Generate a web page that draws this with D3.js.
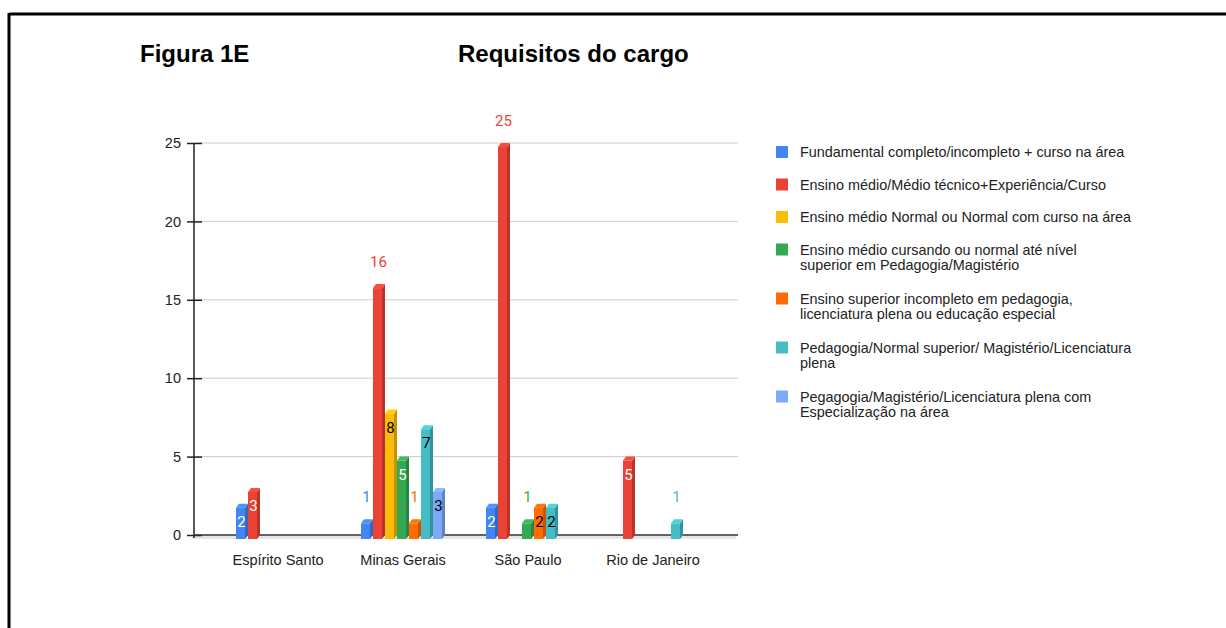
<!DOCTYPE html>
<html>
<head>
<meta charset="utf-8">
<script src="https://cdn.jsdelivr.net/npm/d3@7"></script>
<style>
  body { margin: 0; background: #fff; }
  svg { display: block; font-family: "Liberation Sans", Arial, sans-serif; }
</style>
</head>
<body>
<svg width="1226" height="628"></svg>
<script>
// data
const states = ['Espírito Santo', 'Minas Gerais', 'São Paulo', 'Rio de Janeiro'];
const seriesNames = [
  'Fundamental completo/incompleto + curso na área',
  'Ensino médio/Médio técnico+Experiência/Curso',
  'Ensino médio Normal ou Normal com curso na área',
  'Ensino médio cursando ou normal até nível\nsuperior em Pedagogia/Magistério',
  'Ensino superior incompleto em pedagogia,\nlicenciatura plena ou educação especial',
  'Pedagogia/Normal superior/ Magistério/Licenciatura\nplena',
  'Pegagogia/Magistério/Licenciatura plena com\nEspecialização na área'
];
// one array per series, values by state (null = no bar)
const fundamental   = [2, 1, 2, null];
const medioTecnico  = [3, 16, 25, 5];
const medioNormal   = [null, 8, null, null];
const medioCursando = [null, 5, 1, null];
const superiorInc   = [null, 1, 2, null];
const pedagogia     = [null, 7, 2, 1];
const especializ    = [null, 3, null, null];
const yTicks = [0, 5, 10, 15, 20, 25];

const seriesValues = [fundamental, medioTecnico, medioNormal, medioCursando, superiorInc, pedagogia, especializ];
const colors = ['#4285F4', '#EA4335', '#FBBC04', '#34A853', '#FF6D01', '#46BDC6', '#7BAAF7'];
const insideText = ['#fff', '#fff', '#000', '#fff', '#000', '#000', '#000'];

const svg = d3.select('svg');

// frame (top + left edge)
svg.append('line').attr('x1', 9).attr('x2', 1226).attr('y1', 14).attr('y2', 14)
  .attr('stroke', '#000').attr('stroke-width', 3);
svg.append('line').attr('x1', 9).attr('x2', 9).attr('y1', 13).attr('y2', 628)
  .attr('stroke', '#000').attr('stroke-width', 3);

// titles
svg.append('text').attr('x', 140).attr('y', 62)
  .attr('font-size', 24).attr('font-weight', 'bold').attr('fill', '#000')
  .text('Figura 1E');
svg.append('text').attr('x', 458).attr('y', 62)
  .attr('font-size', 24).attr('font-weight', 'bold').attr('fill', '#000')
  .text('Requisitos do cargo');

// scales
const depthX = 3, depthY = 4;
const plotLeft = 194, plotRight = 738;
const y = d3.scaleLinear().domain([0, 25]).range([535, 143]);
const x0 = d3.scaleBand().domain(states).range([215.5, 715.5]);
const groupW = 84;
const x1 = d3.scaleBand().domain(d3.range(seriesValues.length)).range([0, groupW]);
const barW = x1.bandwidth() - depthX;

// floor
svg.append('polygon')
  .attr('points', [[plotLeft - depthX, y(0) + depthY], [plotRight - depthX, y(0) + depthY], [plotRight, y(0)], [plotLeft, y(0)]].join(' '))
  .attr('fill', '#e6e6e6');

// gridlines
svg.append('g').selectAll('line')
  .data(yTicks.filter(t => t > 0))
  .join('line')
  .attr('x1', plotLeft).attr('x2', plotRight)
  .attr('y1', d => y(d)).attr('y2', d => y(d))
  .attr('stroke', '#ccc').attr('stroke-width', 1);

// y axis
const yAxis = svg.append('g')
  .attr('transform', `translate(${plotLeft},0)`)
  .call(d3.axisLeft(y).tickValues(yTicks).tickSize(7).tickPadding(6));
yAxis.select('.domain').remove();
yAxis.selectAll('.tick line').attr('x1', -7).attr('x2', 8).attr('stroke', '#222').attr('stroke-width', 1.5);
yAxis.selectAll('.tick text').attr('font-size', 14.5).attr('fill', '#222')
  .attr('font-family', '"Liberation Sans", Arial, sans-serif');
svg.append('line').attr('x1', plotLeft).attr('x2', plotLeft)
  .attr('y1', y(25)).attr('y2', y(0) + 3).attr('stroke', '#222').attr('stroke-width', 1.5);

// baseline
svg.append('line').attr('x1', plotLeft).attr('x2', plotRight)
  .attr('y1', y(0)).attr('y2', y(0)).attr('stroke', '#333').attr('stroke-width', 1.5);

// x axis labels
svg.append('g')
  .attr('transform', `translate(0,${y(0)})`)
  .call(d3.axisBottom(x0).tickSize(0).tickPadding(20))
  .call(g => g.select('.domain').remove())
  .selectAll('text')
  .attr('font-size', 14.5).attr('fill', '#222')
  .attr('font-family', '"Liberation Sans", Arial, sans-serif');

// bars
const bars = [];
seriesValues.forEach((vals, si) => {
  vals.forEach((v, ci) => {
    if (v == null) return;
    bars.push({ si, ci, v });
  });
});

const gBars = svg.append('g');
const offset = (x0.bandwidth() - groupW) / 2;

bars.forEach(d => {
  const bx = x0(states[d.ci]) + offset + x1(d.si);
  const topBack = y(d.v);
  const base = y(0);
  const fx = bx, fTop = topBack + depthY, fBot = base + depthY;
  const c = d3.color(colors[d.si]);
  const g = gBars.append('g');
  // side face
  g.append('polygon')
    .attr('points', [[fx + barW, fTop], [fx + barW + depthX, topBack], [fx + barW + depthX, base], [fx + barW, fBot]].join(' '))
    .attr('fill', c.darker(0.7));
  // top face
  g.append('polygon')
    .attr('points', [[fx, fTop], [fx + depthX, topBack], [fx + barW + depthX, topBack], [fx + barW, fTop]].join(' '))
    .attr('fill', c.brighter(0.3));
  // front face
  g.append('rect')
    .attr('x', fx).attr('y', fTop)
    .attr('width', barW).attr('height', fBot - fTop)
    .attr('fill', c);

  // value label
  const label = String(d.v);
  const fits = label.length === 1 && (fBot - fTop) >= 28;
  g.append('text')
    .attr('x', fx + barW / 2 + 1)
    .attr('y', fits ? topBack + 23 : topBack - 17)
    .attr('text-anchor', 'middle')
    .attr('font-family', 'Roboto, sans-serif')
    .attr('font-size', 15)
    .attr('fill', fits ? insideText[d.si] : colors[d.si])
    .text(label);
});

// legend
const legend = svg.append('g');
let ly = 152;
seriesNames.forEach((name, i) => {
  const lines = name.split('\n');
  legend.append('rect')
    .attr('x', 776).attr('y', ly - 6).attr('width', 12).attr('height', 12)
    .attr('fill', colors[i]);
  const t = legend.append('text')
    .attr('x', 800).attr('y', ly + 5)
    .attr('font-size', 14.4).attr('fill', '#222');
  lines.forEach((ln, k) => {
    t.append('tspan').attr('x', 800).attr('dy', k === 0 ? 0 : 15.5).text(ln);
  });
  ly += 32.5 + (lines.length - 1) * 16.5;
});
</script>
</body>
</html>
